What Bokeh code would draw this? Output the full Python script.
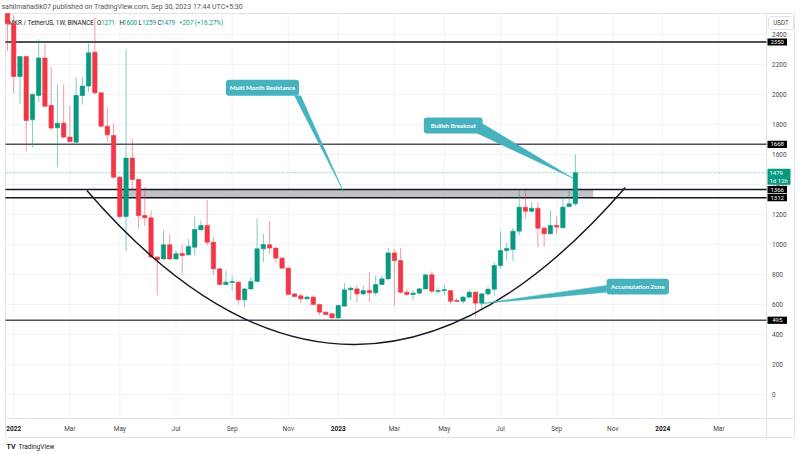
import pandas as pd
from bokeh.plotting import figure
from bokeh.models import Range1d, ColumnDataSource
from bokeh.embed import file_html
from bokeh.resources import INLINE
from bokeh.core.properties import value

# ---------------- data (MKR / TetherUS, 1W, Binance) ----------------
first_week = "2021-12-27"
opens = [2600, 2471, 2120, 2253, 1831, 1993, 2244, 1927, 1778, 1809,
         1716, 1682, 1993, 2056, 2282, 2011, 1789, 1727, 1449, 1187,
         1576, 1433, 1193, 1178, 916, 904, 998, 904, 940, 931,
         982, 1098, 1127, 1015, 838, 733, 747, 749, 631, 704,
         753, 971, 998, 976, 909, 842, 671, 658, 638, 649,
         600, 549, 538, 511, 589, 698, 704, 671, 693, 678,
         733, 771, 944, 893, 682, 667, 676, 704, 798, 687,
         693, 693, 627, 622, 649, 682, 609, 671, 702, 860,
         960, 967, 1089, 1249, 1222, 1242, 1109, 1071, 1127, 1111,
         1253, 1271]
highs = [2650, 2527, 2260, 2260, 2010, 2367, 2338, 2182, 2067, 2067,
         1927, 2116, 2116, 2349, 2513, 2015, 1916, 1807, 1455, 2304,
         1704, 1440, 1382, 1227, 920, 1093, 1064, 960, 1000, 1038,
         1187, 1160, 1298, 1049, 840, 827, 793, 752, 710, 782,
         1171, 1071, 1153, 980, 920, 850, 672, 672, 660, 660,
         607, 553, 542, 600, 742, 720, 727, 727, 816, 793,
         793, 978, 968, 978, 704, 693, 711, 804, 820, 716,
         731, 693, 642, 660, 698, 687, 673, 718, 882, 1089,
         1011, 1111, 1364, 1364, 1282, 1282, 1120, 1227, 1187, 1304,
         1364, 1600]
lows = [2290, 2007, 1940, 1620, 1647, 1949, 1915, 1760, 1516, 1710,
        1680, 1680, 1933, 2016, 2000, 1780, 1682, 1440, 1171, 956,
        1360, 1104, 1122, 910, 660, 900, 898, 900, 798, 928,
        927, 1095, 993, 798, 730, 730, 693, 600, 582, 700,
        750, 882, 938, 878, 840, 665, 650, 611, 635, 595,
        527, 530, 507, 504, 588, 627, 616, 660, 616, 660,
        730, 765, 593, 670, 660, 631, 667, 700, 678, 670,
        660, 604, 616, 604, 640, 516, 571, 660, 660, 838,
        893, 889, 1060, 1171, 1215, 982, 987, 1071, 1071, 1111,
        1250, 1259]
closes = [2471, 2120, 2253, 1827, 2000, 2244, 1922, 1776, 1809, 1716,
          1687, 1993, 2056, 2278, 2011, 1789, 1731, 1449, 1187, 1576,
          1433, 1193, 1178, 916, 898, 998, 904, 938, 927, 987,
          1100, 1127, 1015, 838, 733, 749, 753, 631, 704, 753,
          971, 1000, 976, 909, 842, 667, 653, 638, 649, 600,
          549, 533, 511, 593, 698, 709, 671, 693, 678, 733,
          771, 944, 893, 682, 667, 676, 704, 798, 689, 693,
          699, 622, 620, 649, 682, 609, 671, 702, 860, 960,
          973, 1089, 1249, 1222, 1242, 1109, 1071, 1127, 1116, 1249,
          1271, 1479]

level_prices = [2350, 1668, 1366, 1312, 495]
level_labels = ["2350", "1668", "1366", "1312", "495"]
zone_low, zone_high = 1312, 1366
zone_start, zone_end = "2022-04-30", "2023-10-15"
last_price = 1479
countdown = "1d 12h"

x_tick_dates = ["2022-01-03", "2022-03-07", "2022-05-02", "2022-07-04", "2022-09-05",
                "2022-11-07", "2023-01-02", "2023-03-06", "2023-05-01", "2023-07-03",
                "2023-09-04", "2023-11-06", "2024-01-01", "2024-03-04"]
x_tick_labels = ["2022", "Mar", "May", "Jul", "Sep", "Nov", "2023", "Mar", "May",
                 "Jul", "Sep", "Nov", "2024", "Mar"]
y_ticks = [0, 200, 400, 600, 800, 1000, 1200, 1400, 1600, 1800, 2000, 2200, 2400]

header_text = "sahilmahadik07 published on TradingView.com, Sep 30, 2023 17:44 UTC+5:30"
symbol_text = "MKR / TetherUS, 1W, BINANCE"
ohlc_names = ["O", "H", "L", "C"]
ohlc_values = ["1271", "1600", "1259", "1479"]
change_text = "+207 (+16.27%)"

# cup arc (drawing): start, bottom, end
arc_dates = ["2022-03-26", "2023-01-21", "2023-11-20"]
arc_prices = [1360, 333, 1380]

callouts = [
    dict(text="Multi Month Resistance", left="2022-08-29", right="2022-11-19", top=2098, bottom=1991,
         pointer=[("2022-11-14", 1991), ("2022-11-21", 1991), ("2023-01-08", 1352)]),
    dict(text="Bullish Breakout", left="2023-04-08", right="2023-06-13", top=1847, bottom=1740,
         pointer=[("2023-06-13", 1805), ("2023-06-05", 1747), ("2023-09-23", 1440)]),
    dict(text="Accumulation Zone", left="2023-10-30", right="2024-01-08", top=771, bottom=667,
         pointer=[("2023-10-30", 727), ("2023-10-30", 682), ("2023-06-10", 605)]),
]

# ---------------- layout helpers ----------------
def ms(d):
    return int(pd.Timestamp(d).value // 10**6)

WEEK = 7 * 24 * 3600 * 1000
dates = pd.date_range(first_week, periods=len(opens), freq="7D")
xs = [ms(d) for d in dates]
x0 = xs[0]

W, H = 800, 454
PANE_L, PANE_R, PANE_T, PANE_B = 5, 766, 13, 418
x_left, x_right = x0 - 0.32 * WEEK, x0 + 121.63 * WEEK
p_top, p_bot = 2540, -160
sx = (PANE_R - PANE_L) / (x_right - x_left)
sy = (PANE_B - PANE_T) / (p_top - p_bot)


def X(px):
    return x_left + (px - PANE_L) / sx


def Y(py):
    return p_top - (py - PANE_T) / sy


GREEN = "#089981"
RED = "#F23645"
TEAL = "#47b2be"
DARK = "#131722"
GREY_TXT = "#4a4a4a"
LINE = "#e0e3eb"
GRID = "#f0f3fa"
FONT = "Roboto"

p = figure(width=W, height=H, output_backend="svg", toolbar_location=None,
           x_range=Range1d(X(0), X(W)), y_range=Range1d(Y(H), Y(0)),
           x_axis_location=None, y_axis_location=None, min_border=0)
p.outline_line_color = None
p.grid.visible = False
p.background_fill_color = "white"
p.border_fill_color = "white"


def txt(x, y, t, size, color, align="left", style="normal", font=FONT):
    p.text(x=x, y=y, text=t, text_font=value(font), text_font_size=size, text_color=color,
           text_align=align, text_baseline="middle", text_font_style=style)


# grid lines inside the pane
tick_ms = [ms(d) for d in x_tick_dates]
p.segment(x0=tick_ms, y0=[Y(PANE_T)] * len(tick_ms), x1=tick_ms, y1=[Y(PANE_B)] * len(tick_ms),
          line_color=GRID, line_width=1)
p.segment(x0=[X(PANE_L)] * len(y_ticks), y0=y_ticks, x1=[X(PANE_R)] * len(y_ticks), y1=y_ticks,
          line_color=GRID, line_width=1)

# frame / separators
p.quad(left=[X(PANE_L)], right=[X(794)], top=[Y(PANE_T)], bottom=[Y(437)],
       fill_color=None, line_color=LINE, line_width=1)
p.segment(x0=[X(PANE_R)], y0=[Y(PANE_T)], x1=[X(PANE_R)], y1=[Y(437)], line_color=LINE)
p.segment(x0=[X(PANE_L)], y0=[Y(PANE_B)], x1=[X(794)], y1=[Y(PANE_B)], line_color=LINE)

# header texts (under the candles, like the reference)
txt([X(1)], [Y(6)], [header_text], "7px", "#50535e")
txt([X(8)], [Y(22)], [symbol_text], "6.3px", DARK)
name_px = [96.5, 119, 138, 157]
val_px = [100.5, 122.5, 141.5, 160.5]
txt([X(v) for v in name_px], [Y(22)] * 4, ohlc_names, "6.3px", DARK)
txt([X(v) for v in val_px], [Y(22)] * 4, ohlc_values, "6.3px", GREEN)
txt([X(178.5)], [Y(22)], [change_text], "6.3px", GREEN)

# resistance zone
p.quad(left=[ms(zone_start)], right=[ms(zone_end)], bottom=[zone_low], top=[zone_high],
       fill_color="#c1c2c8", line_color=None)

# horizontal levels
level_colors = ["#131722", "#50535e", "#131722", "#131722", "#50535e"]
p.segment(x0=[X(PANE_L)] * len(level_prices), y0=level_prices,
          x1=[X(PANE_R)] * len(level_prices), y1=level_prices,
          line_color=level_colors, line_width=1.5)
p.segment(x0=[X(PANE_L)], y0=[last_price], x1=[X(PANE_R)], y1=[last_price],
          line_color=GREEN, line_alpha=0.45, line_dash="2 2", line_width=1)

# candles (clipped to the pane top)
df = pd.DataFrame(dict(x=xs, open=opens, high=highs, low=lows, close=closes))
df["top"] = df[["open", "close"]].max(axis=1).clip(upper=p_top)
df["bottom"] = df[["open", "close"]].min(axis=1)
df["high_c"] = df["high"].clip(upper=p_top)
df["color"] = [GREEN if c >= o else RED for o, c in zip(df.open, df.close)]
src = ColumnDataSource(df)
p.segment(x0="x", y0="high_c", x1="x", y1="low", color="color", line_alpha=0.5, line_width=1, source=src)
p.vbar(x="x", width=0.7 * WEEK, top="top", bottom="bottom", fill_color="color",
       line_color="color", line_width=0.6, source=src)

# cup arc as a quadratic curve through the bottom point
ax = [ms(d) for d in arc_dates]
cx = 2 * ax[1] - (ax[0] + ax[2]) / 2
cy = 2 * arc_prices[1] - (arc_prices[0] + arc_prices[2]) / 2
p.quadratic(x0=[ax[0]], y0=[arc_prices[0]], x1=[ax[2]], y1=[arc_prices[2]], cx=[cx], cy=[cy],
            line_color=DARK, line_width=1.4)

# callouts
for c in callouts:
    p.patch([ms(d) for d, _ in c["pointer"]], [v for _, v in c["pointer"]],
            fill_color=TEAL, line_color=TEAL, line_width=0.5)
    p.quad(left=[ms(c["left"])], right=[ms(c["right"])], top=[c["top"]], bottom=[c["bottom"]],
           fill_color=TEAL, line_color=None, border_radius=3)
    txt([(ms(c["left"]) + ms(c["right"])) / 2], [(c["top"] + c["bottom"]) / 2], [c["text"]],
        "6.2px", "white", align="center", style="bold", font="Lato")

# price scale labels
txt([X(771.5)] * len(y_ticks), y_ticks, [str(t) for t in y_ticks], "6.5px", GREY_TXT)

# price tags
half = 3.6 / sy
p.quad(left=[X(767)] * len(level_prices), right=[X(786.5)] * len(level_prices),
       top=[v + half for v in level_prices], bottom=[v - half for v in level_prices],
       fill_color="black", line_color=None)
txt([X(776.7)] * len(level_prices), level_prices, level_labels, "6px", "white", align="center")
p.quad(left=[X(767)], right=[X(790)], top=[last_price + 3.8 / sy], bottom=[last_price - 12.2 / sy],
       fill_color=GREEN, line_color=None)
txt([X(769)], [last_price], [str(last_price)], "6px", "white")
txt([X(769)], [last_price - 8 / sy], [countdown], "6px", "white")

# currency box
p.quad(left=[X(768)], right=[X(793)], top=[Y(16)], bottom=[Y(29)], fill_color="white",
       line_color=LINE, border_radius=2)
txt([X(780.5)], [Y(22.5)], ["USDT"], "6.3px", GREY_TXT, align="center")

# time scale labels
for d, l in zip(x_tick_dates, x_tick_labels):
    is_year = l.isdigit()
    txt([ms(d)], [Y(428)], [l], "6.5px", DARK if is_year else GREY_TXT, align="center",
        style="bold" if is_year else "normal")

# TradingView mark
txt([X(6)], [Y(446)], ["TV"], "7px", DARK, style="bold")
txt([X(18)], [Y(446)], ["TradingView"], "6.5px", DARK)

open("out.html", "w").write(file_html(p, INLINE))
